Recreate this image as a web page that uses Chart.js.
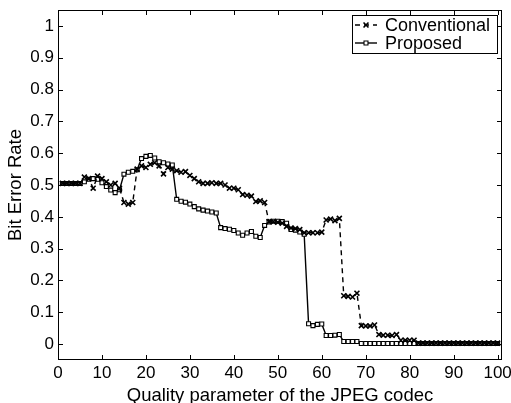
<!DOCTYPE html>
<html>
<head>
<meta charset="utf-8">
<script src="https://cdn.jsdelivr.net/npm/chart.js@4/dist/chart.umd.min.js"></script>
<style>
  body { margin: 0; background: #fff; }
  #wrap { width: 511px; height: 403px; position: relative; }
</style>
</head>
<body>
<div id="wrap"><canvas id="grafico"></canvas></div>
<script>
const quality = [1,2,3,4,5,6,7,8,9,10,11,12,13,14,15,16,17,18,19,20,
  21,22,23,24,25,26,27,28,29,30,31,32,33,34,35,36,37,38,39,40,
  41,42,43,44,45,46,47,48,49,50,51,52,53,54,55,56,57,58,59,60,
  61,62,63,64,65,66,67,68,69,70,71,72,73,74,75,76,77,78,79,80,
  81,82,83,84,85,86,87,88,89,90,91,92,93,94,95,96,97,98,99,100];

const conventional = [0.505,0.505,0.505,0.505,0.505,0.525,0.52,0.49,0.528,0.52,
  0.51,0.5,0.505,0.49,0.445,0.44,0.445,0.55,0.56,0.555,
  0.565,0.57,0.56,0.535,0.555,0.55,0.545,0.54,0.542,0.53,
  0.52,0.51,0.505,0.505,0.507,0.505,0.505,0.5,0.49,0.49,
  0.485,0.47,0.468,0.465,0.448,0.45,0.445,0.385,0.385,0.383,
  0.38,0.37,0.365,0.363,0.36,0.35,0.35,0.35,0.35,0.352,
  0.39,0.393,0.388,0.395,0.152,0.15,0.148,0.16,0.058,0.057,
  0.057,0.06,0.03,0.028,0.028,0.027,0.03,0.012,0.012,0.012,
  0.012,0.003,0.003,0.003,0.003,0.003,0.003,0.003,0.003,0.003,
  0.003,0.003,0.003,0.003,0.003,0.003,0.003,0.003,0.003,0.003];

const proposed = [0.505,0.505,0.505,0.505,0.505,0.51,0.518,0.52,0.518,0.507,
  0.495,0.484,0.476,0.485,0.534,0.54,0.543,0.548,0.583,0.59,
  0.593,0.585,0.573,0.57,0.566,0.563,0.455,0.449,0.446,0.44,
  0.432,0.425,0.421,0.418,0.415,0.412,0.366,0.363,0.361,0.357,
  0.349,0.342,0.349,0.354,0.339,0.335,0.373,0.384,0.386,0.386,
  0.385,0.38,0.36,0.358,0.352,0.345,0.064,0.058,0.062,0.063,
  0.027,0.027,0.028,0.03,0.008,0.008,0.008,0.008,0.002,0.002,
  0.002,0.002,0.002,0.002,0.002,0.002,0.002,0.002,0.002,0.002,
  0.002,0.002,0.002,0.002,0.002,0.002,0.002,0.002,0.002,0.002,
  0.002,0.002,0.002,0.002,0.002,0.002,0.002,0.002,0.002,0.002];

const xTicks = [0,10,20,30,40,50,60,70,80,90,100];
const yTicks = [0,0.1,0.2,0.3,0.4,0.5,0.6,0.7,0.8,0.9,1];
const yTickLabels = ['0','0.1','0.2','0.3','0.4','0.5','0.6','0.7','0.8','0.9','1'];
const seriesNames = ['Conventional','Proposed'];

const FONT = '"Liberation Sans", Arial, Helvetica, sans-serif';

// moldura, marcas de escala para dentro e legenda no canto
const eixosMatlab = {
  id: 'eixosMatlab',
  afterDraw(chart) {
    const ctx = chart.ctx;
    const a = chart.chartArea;
    const sx = chart.scales.x, sy = chart.scales.y;
    ctx.save();
    ctx.strokeStyle = '#000';
    ctx.lineWidth = 1;
    ctx.setLineDash([]);
    ctx.strokeRect(a.left + 0.5, a.top + 0.5, a.right - a.left - 1, a.bottom - a.top - 1);
    const tl = 5;
    ctx.beginPath();
    xTicks.forEach(v => {
      const px = Math.round(sx.getPixelForValue(v)) + 0.5;
      ctx.moveTo(px, a.bottom); ctx.lineTo(px, a.bottom - tl);
      ctx.moveTo(px, a.top); ctx.lineTo(px, a.top + tl);
    });
    yTicks.forEach(v => {
      const py = Math.round(sy.getPixelForValue(v)) + 0.5;
      ctx.moveTo(a.left, py); ctx.lineTo(a.left + tl, py);
      ctx.moveTo(a.right, py); ctx.lineTo(a.right - tl, py);
    });
    ctx.stroke();

    // legenda
    const bx = 352, by = 15, bw = 145, bh = 38;
    ctx.fillStyle = '#fff';
    ctx.fillRect(bx, by, bw, bh);
    ctx.strokeRect(bx + 0.5, by + 0.5, bw, bh);
    const rows = [25, 43];
    chart.data.datasets.forEach((ds, i) => {
      const y = rows[i];
      ctx.beginPath();
      ctx.setLineDash(ds.borderDash || []);
      ctx.lineWidth = ds.borderWidth;
      ctx.moveTo(355, y); ctx.lineTo(377, y);
      ctx.stroke();
      ctx.setLineDash([]);
      ctx.lineWidth = ds.pointBorderWidth;
      ctx.fillStyle = '#fff';
      Chart.helpers.drawPoint(ctx, {
        pointStyle: ds.pointStyle, radius: ds.pointRadius, borderWidth: ds.pointBorderWidth, rotation: 0
      }, 366, y);
      ctx.fillStyle = '#000';
      ctx.font = '18px ' + FONT;
      ctx.textBaseline = 'middle';
      ctx.textAlign = 'left';
      ctx.fillText(ds.label, 385, y + 1);
    });
    ctx.restore();
  }
};

new Chart(document.getElementById('grafico'), {
  type: 'line',
  data: {
    datasets: [{
      label: seriesNames[0],
      data: quality.map((q, i) => ({ x: q, y: conventional[i] })),
      borderColor: '#000',
      backgroundColor: '#000',
      borderWidth: 1.4,
      borderDash: [5, 4],
      pointStyle: 'crossRot',
      pointRadius: 3.5,
      pointBorderWidth: 1.6,
      pointBorderColor: '#000',
      fill: false,
      tension: 0
    }, {
      label: seriesNames[1],
      data: quality.map((q, i) => ({ x: q, y: proposed[i] })),
      borderColor: '#000',
      backgroundColor: '#fff',
      borderWidth: 1.4,
      pointStyle: 'rect',
      pointRadius: 2.8,
      pointBorderWidth: 1.1,
      pointBorderColor: '#000',
      pointBackgroundColor: '#fff',
      fill: false,
      tension: 0
    }]
  },
  options: {
    responsive: true,
    maintainAspectRatio: false,
    animation: false,
    layout: { padding: { left: 0, right: 9, top: 10, bottom: 0 } },
    plugins: { legend: { display: false }, tooltip: { enabled: false } },
    scales: {
      x: {
        type: 'linear',
        min: 0,
        max: 101,
        afterBuildTicks: s => { s.ticks = xTicks.map(v => ({ value: v })); },
        afterFit: s => { s.height = 43; s.paddingLeft = 0; s.paddingRight = 0; },
        grid: { display: false, drawTicks: false },
        border: { display: false },
        ticks: { color: '#000', font: { family: FONT, size: 17 }, padding: 3, maxRotation: 0, autoSkip: false },
        title: { display: true, text: 'Quality parameter of the JPEG codec', color: '#000',
                 font: { family: FONT, size: 18.5, lineHeight: 0.8 }, padding: { top: 0, bottom: 0 } }
      },
      y: {
        type: 'linear',
        min: -0.05,
        max: 1.05,
        afterBuildTicks: s => { s.ticks = yTicks.map(v => ({ value: v })); },
        afterFit: s => { s.width = 58; s.paddingTop = 0; s.paddingBottom = 0; },
        grid: { display: false, drawTicks: false },
        border: { display: false },
        ticks: { color: '#000', font: { family: FONT, size: 17 }, padding: 4, autoSkip: false,
                 callback: (v) => yTickLabels[yTicks.findIndex(t => Math.abs(t - v) < 1e-9)] },
        title: { display: true, text: 'Bit Error Rate', color: '#000',
                 font: { family: FONT, size: 18.5 }, padding: { top: 5, bottom: 0 } }
      }
    }
  },
  plugins: [eixosMatlab]
});
</script>
</body>
</html>
